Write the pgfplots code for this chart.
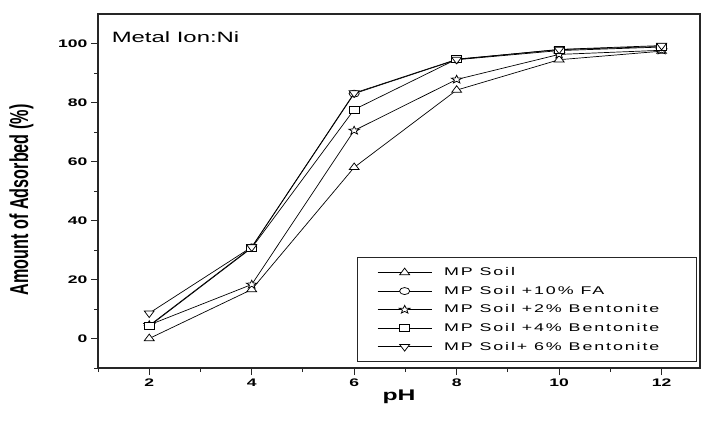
\documentclass[border=0pt]{standalone}
\usepackage{fontspec}
\setmainfont{Liberation Sans}
\newfontfamily\wide[FakeStretch=1.6]{Liberation Sans}
\newfontfamily\widesp[FakeStretch=1.6,LetterSpace=17]{Liberation Sans}
\newfontfamily\tall[FakeStretch=0.625]{Liberation Sans}
\usepackage{pgfplots}
\pgfplotsset{compat=1.18}
\pgfdeclareplotmark{ostar}{%
  \pgfpathmoveto{\pgfpointpolar{90}{\pgfplotmarksize}}%
  \pgfpathlineto{\pgfpointpolar{126}{0.42\pgfplotmarksize}}%
  \pgfpathlineto{\pgfpointpolar{162}{\pgfplotmarksize}}%
  \pgfpathlineto{\pgfpointpolar{198}{0.42\pgfplotmarksize}}%
  \pgfpathlineto{\pgfpointpolar{234}{\pgfplotmarksize}}%
  \pgfpathlineto{\pgfpointpolar{270}{0.42\pgfplotmarksize}}%
  \pgfpathlineto{\pgfpointpolar{306}{\pgfplotmarksize}}%
  \pgfpathlineto{\pgfpointpolar{342}{0.42\pgfplotmarksize}}%
  \pgfpathlineto{\pgfpointpolar{18}{\pgfplotmarksize}}%
  \pgfpathlineto{\pgfpointpolar{54}{0.42\pgfplotmarksize}}%
  \pgfpathclose
  \pgfusepathqfillstroke
}
\newcommand{\legtxt}[1]{\makebox[230bp][l]{#1}}
\begin{document}
\begin{tikzpicture}
\useasboundingbox (0,0) rectangle (701bp,422bp);
\begin{axis}[
  at={(98bp,54bp)}, anchor=south west,
  scale only axis, width=602bp, height=354bp,
  xmin=1, xmax=12.75, ymin=-10, ymax=110,
  xtick={2,4,6,8,10,12}, minor xtick={1,3,5,7,9,11},
  ytick={0,20,40,60,80,100}, minor ytick={-10,10,30,50,70,90},
  tick pos=left, tick align=outside,
  major tick length=7bp, minor tick length=4bp,
  axis line style={line width=1.1bp, black!85},
  every tick/.style={line width=0.9bp, black!85},
  /pgf/number format/assume math mode=true,
  ticklabel style={font=\wide\bfseries\fontsize{11}{12}\selectfont},
  xlabel={pH}, ylabel={Amount of Adsorbed (\%)},
  xlabel style={font=\wide\bfseries\fontsize{15.5}{17}\selectfont, at={(axis description cs:0.5,-0.082)}, anchor=center},
  ylabel style={font=\tall\bfseries\fontsize{26}{28}\selectfont, at={(axis description cs:-0.127,0.475)}, anchor=center},
  every axis plot/.append style={line width=0.7bp, black, mark size=3.5bp},
  legend style={at={(axis description cs:0.43,0.017)}, anchor=south west, draw=black!85, line width=0.9bp,
    font=\widesp\fontsize{11.2}{12.5}\selectfont, inner xsep=20bp, inner ysep=8bp, row sep=5bp, column sep=10bp},
  legend cell align=left,
  legend image code/.code={\draw[mark repeat=2,mark phase=2] plot coordinates {(0bp,0bp) (27bp,0bp) (54bp,0bp)};},
  clip=false
]
\addplot[mark=triangle*, mark size=4.4bp, mark options={solid, fill=white, xscale=1.3, line width=0.75bp}] coordinates {(2,0) (4,16.6) (6,58) (8,84.2) (10,94.5) (12,97.4)};
\addlegendentry{\legtxt{MP Soil}}
\addplot[mark=*, mark options={solid, fill=white, xscale=1.45, line width=0.75bp}] coordinates {(2,4.4) (4,30.9) (6,83) (8,94.5) (10,97.6) (12,98.8)};
\addlegendentry{\legtxt{MP Soil +10\% FA}}
\addplot[mark=ostar, mark size=4.3bp, mark options={solid, fill=white, xscale=1.3, line width=0.75bp}] coordinates {(2,4.6) (4,18.3) (6,70.5) (8,87.8) (10,96.3) (12,97.7)};
\addlegendentry{\legtxt{MP Soil +2\% Bentonite}}
\addplot[mark=square*, mark options={solid, fill=white, xscale=1.45, line width=0.75bp}] coordinates {(2,4.2) (4,30.7) (6,77.6) (8,94.7) (10,97.9) (12,99)};
\addlegendentry{\legtxt{MP Soil +4\% Bentonite}}
\addplot[mark=triangle*, mark size=4.4bp, mark options={solid, fill=white, rotate=180, xscale=1.3, line width=0.75bp}] coordinates {(2,8.6) (4,31) (6,83.2) (8,94.6) (10,98) (12,99.3)};
\addlegendentry{\legtxt{MP Soil+ 6\% Bentonite}}
\node[anchor=west, font=\wide\fontsize{15}{17}\selectfont] at (axis description cs:0.017,0.935) {Metal Ion:Ni};
\end{axis}
\end{tikzpicture}
\end{document}
